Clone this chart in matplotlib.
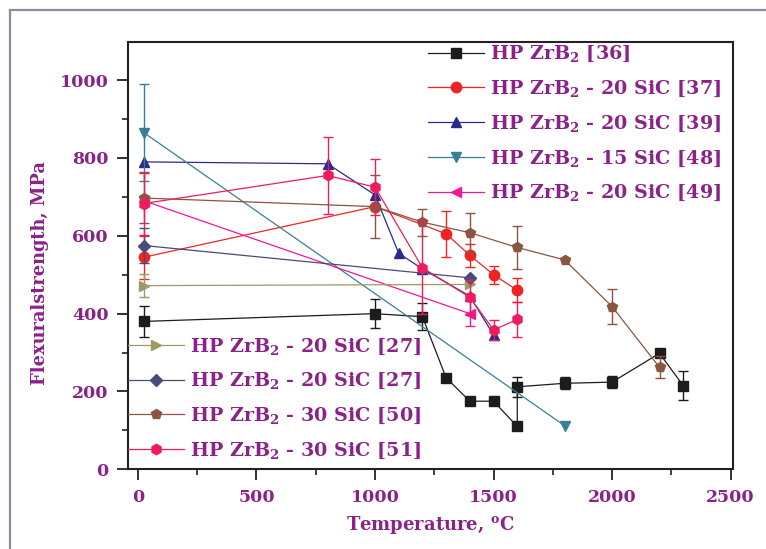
import matplotlib
matplotlib.use("Agg")
import matplotlib.pyplot as plt
import numpy as np
from matplotlib.lines import Line2D
from matplotlib.ticker import MultipleLocator

plt.rcParams['font.family'] = ['DejaVu Serif']
plt.rcParams['font.weight'] = 'bold'
plt.rcParams['mathtext.fontset'] = 'custom'
plt.rcParams['mathtext.rm'] = 'DejaVu Serif:bold'
plt.rcParams['mathtext.it'] = 'DejaVu Serif:bold'
plt.rcParams['mathtext.bf'] = 'DejaVu Serif:bold'
plt.rcParams['mathtext.default'] = 'rm'

PURPLE = '#8b2289'

# ---- data ----
T36 = [25, 1000, 1200, 1300, 1400, 1500, 1600, 1600, 1800, 2000, 2200, 2300]
S36 = [380, 400, 392, 235, 175, 175, 110, 212, 221, 224, 298, 215]
E36 = [40, 38, 35, 0, 10, 0, 0, 25, 15, 15, 0, 38]

T37 = [25, 1000, 1300, 1400, 1500, 1600]
S37 = [545, 675, 605, 550, 500, 460]
E37 = [55, 0, 60, 30, 23, 31]

T39 = [25, 800, 1000, 1100, 1200, 1400, 1500]
S39 = [790, 785, 705, 555, 515, 445, 345]
E39 = [0, 0, 0, 0, 0, 0, 0]

T48 = [25, 1800]
S48 = [865, 112]
E48 = [125, 0]

T49 = [25, 1400]
S49 = [690, 400]
E49 = [0, 32]

T27a = [25, 1400]
S27a = [472, 475]
E27a = [30, 0]

T27b = [25, 1400]
S27b = [575, 492]
E27b = [45, 0]

T50 = [25, 1000, 1200, 1400, 1600, 1800, 2000, 2200]
S50 = [697, 675, 635, 608, 570, 538, 418, 262]
E50 = [65, 80, 35, 50, 55, 0, 45, 28]

T51 = [25, 800, 1000, 1200, 1400, 1500, 1600]
S51 = [683, 755, 725, 518, 442, 358, 385]
E51 = [80, 100, 72, 120, 45, 25, 45]

series = [
    (T36, S36, E36, 's', '#1c1c1c', 'HP ZrB$_2$ [36]'),
    (T37, S37, E37, 'o', '#ee2424', 'HP ZrB$_2$ - 20 SiC [37]'),
    (T39, S39, E39, '^', '#2a2a90', 'HP ZrB$_2$ - 20 SiC [39]'),
    (T48, S48, E48, 'v', '#3a7f98', 'HP ZrB$_2$ - 15 SiC [48]'),
    (T49, S49, E49, '<', '#f0169a', 'HP ZrB$_2$ - 20 SiC [49]'),
    (T27a, S27a, E27a, '>', '#a09a62', 'HP ZrB$_2$ - 20 SiC [27]'),
    (T27b, S27b, E27b, 'D', '#4a4a7c', 'HP ZrB$_2$ - 20 SiC [27]'),
    (T50, S50, E50, 'p', '#8b5540', 'HP ZrB$_2$ - 30 SiC [50]'),
    (T51, S51, E51, 'h', '#ee1c5c', 'HP ZrB$_2$ - 30 SiC [51]'),
]

fig = plt.figure(figsize=(7.66, 5.49), dpi=100)
# outer gray frame (left and top edges visible)
fx, fy = 10/766, 1 - 10/549
fig.add_artist(Line2D([fx, fx], [0, fy], transform=fig.transFigure, color='#8a8fa0', lw=1.6))
fig.add_artist(Line2D([fx, 1], [fy, fy], transform=fig.transFigure, color='#8a8fa0', lw=1.6))

ax = fig.add_axes([128/766, 1 - 469.3/549, (733-128)/766, (469.3-42)/549])

handles = []
for T, S, E, m, c, lab in series:
    ms = 6 if m == 'D' else 7.5
    h, = ax.plot(T, S, '-', color=c, lw=0.9, marker=m, ms=ms, mec=c, mfc=c, label=lab)
    handles.append(h)
    T_ = np.array(T, float); S_ = np.array(S, float); E_ = np.array(E, float)
    k = E_ > 0
    if k.any():
        ax.errorbar(T_[k], S_[k], yerr=E_[k], fmt='none', ecolor=c, elinewidth=1.0,
                    capsize=3.5, capthick=1.0)

ax.set_xlim(-42, 2510)
ax.set_ylim(0, 1098)
ax.xaxis.set_major_locator(MultipleLocator(500))
ax.xaxis.set_minor_locator(MultipleLocator(250))
ax.yaxis.set_major_locator(MultipleLocator(200))
ax.yaxis.set_minor_locator(MultipleLocator(100))
ax.tick_params(which='major', direction='out', length=8, width=1.3, colors='#222222',
               labelcolor=PURPLE, labelsize=12.5, pad=6)
ax.tick_params(which='minor', direction='out', length=4, width=1.2, colors='#222222')
for lbl in ax.get_xticklabels() + ax.get_yticklabels():
    lbl.set_fontweight('bold')
for sp in ax.spines.values():
    sp.set_linewidth(1.5)
    sp.set_color('#222222')

ax.set_xlabel('Temperature, $^{o}$C', color=PURPLE, fontsize=13, fontweight='bold')
ax.xaxis.set_label_coords(0.5, -0.105)
ax.set_ylabel('Flexuralstrength, MPa', color=PURPLE, fontsize=12.8, fontweight='bold')
ax.yaxis.set_label_coords(-0.13, 0.46)

common = dict(frameon=False, fontsize=13.8, labelcolor=PURPLE, handlelength=2.9,
              handletextpad=0.35, labelspacing=0.76, borderpad=0, borderaxespad=0)
leg1 = ax.legend(handles=handles[:5], loc='upper left', bbox_to_anchor=(0.496, 0.995), **common)
ax.add_artist(leg1)
leg2 = ax.legend(handles=handles[5:], loc='upper left', bbox_to_anchor=(0.0, 0.311), **common)

fig.savefig('out.png', dpi=100)
